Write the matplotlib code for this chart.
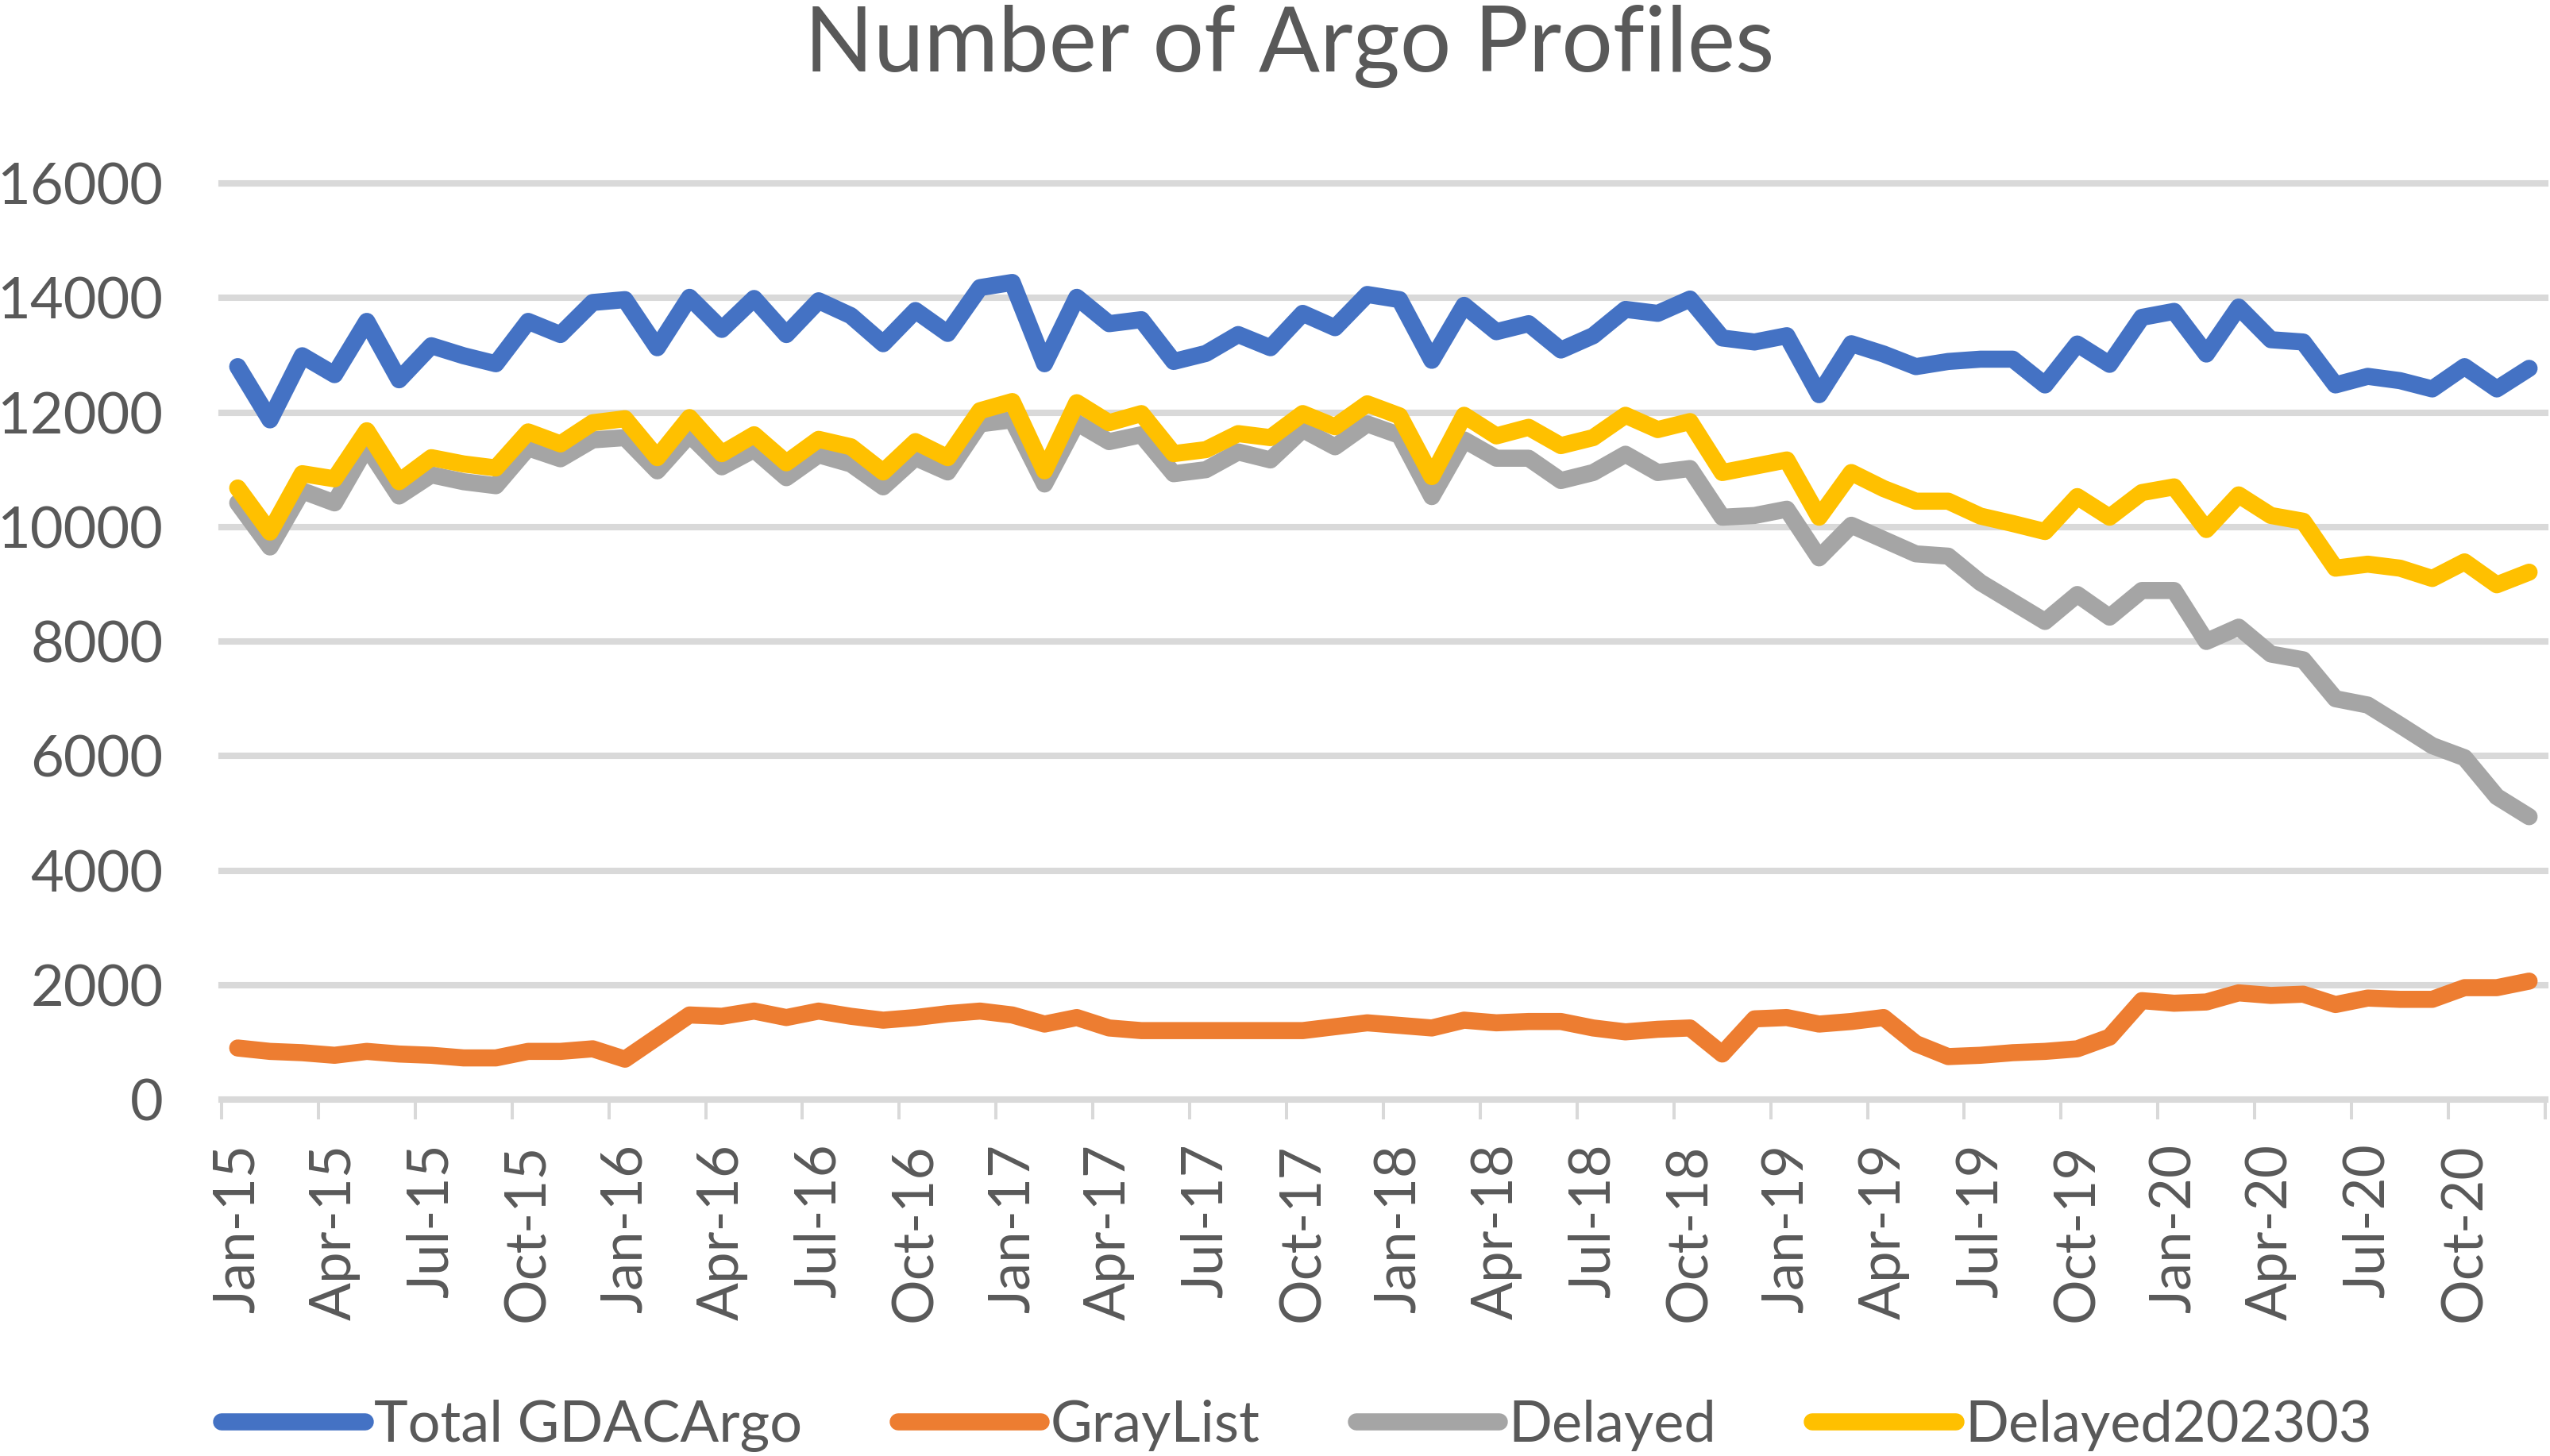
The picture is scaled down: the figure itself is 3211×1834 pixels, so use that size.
import numpy as np
import matplotlib
matplotlib.use("Agg")
import matplotlib.pyplot as plt
from matplotlib.lines import Line2D

plt.rcParams['font.family'] = ['Lato', 'DejaVu Sans']

months = ['Jan', 'Feb', 'Mar', 'Apr', 'May', 'Jun', 'Jul', 'Aug', 'Sep', 'Oct', 'Nov', 'Dec']
years = ['15', '16', '17', '18', '19', '20']
categories = [f"{m}-{y}" for y in years for m in months]

total_gdac = [12800, 11870, 12990, 12660, 13590, 12570, 13165, 12990, 12850, 13590, 13360, 13920,
              13970, 13130, 14010, 13450, 13990, 13360, 13950, 13690, 13200, 13780, 13380, 14180,
              14270, 12850, 14010, 13550, 13620, 12890, 13030, 13360, 13130, 13730, 13480, 14060,
              13970, 12910, 13870, 13410, 13550, 13090, 13340, 13800, 13730, 13980, 13300, 13230,
              13340, 12310, 13200, 13020, 12800, 12890, 12930, 12930, 12480, 13195, 12840, 13660,
              13765, 13020, 13840, 13270, 13230, 12480, 12630, 12555, 12410, 12800, 12410, 12770]

graylist = [900, 841, 818, 773, 841, 795, 773, 727, 727, 841, 841, 886,
            705, 1090, 1477, 1454, 1545, 1432, 1545, 1454, 1386, 1432, 1500, 1545,
            1477, 1318, 1432, 1250, 1204, 1204, 1204, 1204, 1204, 1204, 1272, 1340,
            1295, 1250, 1386, 1340, 1363, 1363, 1250, 1182, 1227, 1250, 795, 1409,
            1432, 1318, 1363, 1432, 977, 750, 773, 818, 841, 886, 1090, 1727,
            1682, 1704, 1863, 1818, 1840, 1659, 1772, 1750, 1750, 1954, 1954, 2068]

delayed = [10420, 9650, 10630, 10420, 11400, 10540, 10910, 10790, 10720, 11380, 11190, 11520,
           11560, 10980, 11610, 11050, 11350, 10860, 11260, 11100, 10700, 11210, 10960, 11800,
           11870, 10750, 11820, 11490, 11610, 10930, 11000, 11310, 11170, 11700, 11400, 11800,
           11600, 10530, 11520, 11200, 11200, 10810, 10950, 11270, 10950, 11020, 10170, 10200,
           10310, 9460, 10030, 9780, 9530, 9490, 9030, 8690, 8350, 8820, 8425, 8890,
           8890, 8000, 8250, 7780, 7680, 7000, 6890, 6540, 6180, 5970, 5290, 4940]

delayed202303 = [10680, 9910, 10930, 10840, 11680, 10790, 11210, 11100, 11030, 11660, 11450, 11820,
                 11890, 11210, 11910, 11280, 11610, 11120, 11530, 11400, 10960, 11490, 11210, 12030,
                 12190, 10980, 12170, 11820, 11980, 11280, 11350, 11630, 11560, 11980, 11750, 12150,
                 11940, 10880, 11950, 11590, 11740, 11420, 11560, 11950, 11700, 11840, 10950, 11060,
                 11170, 10170, 10950, 10670, 10450, 10450, 10190, 10060, 9920, 10530, 10170, 10600,
                 10700, 9955, 10560, 10200, 10100, 9280, 9350, 9280, 9100, 9390, 8990, 9210]

series_names = ['Total GDACArgo', 'GrayList', 'Delayed', 'Delayed202303']
series_colors = ['#4472C4', '#ED7D31', '#A5A5A5', '#FFC000']
y_ticks = [0, 2000, 4000, 6000, 8000, 10000, 12000, 14000, 16000]

W, H = 3212, 1834
fig = plt.figure(figsize=(W / 100, H / 100), dpi=100)
left, right, top, bottom = 279, 3205, 231, 1385
ax = fig.add_axes([left / W, 1 - bottom / H, (right - left) / W, (bottom - top) / H])

x = np.arange(len(categories))
ax.set_xlim(-0.5, len(categories) - 0.5)
ax.set_ylim(0, 16000)

grid_col = '#D9D9D9'
text_col = '#595959'
for yv in y_ticks:
    ax.axhline(yv, color=grid_col, lw=5.8, zorder=1, clip_on=False)

for s in ax.spines.values():
    s.set_visible(False)

lw = 15.5
for vals, name, col in zip([total_gdac, graylist, delayed, delayed202303], series_names, series_colors):
    ax.plot(x, vals, color=col, lw=lw, solid_joinstyle='round', solid_capstyle='round',
            zorder=3, clip_on=False, label=name)

ax.set_yticks(y_ticks)
ax.set_yticklabels([str(v) for v in y_ticks])
ax.tick_params(axis='y', length=0, pad=53, labelsize=52, labelcolor=text_col)

ax.set_xticks(np.arange(-0.5, len(categories), 3))
ax.set_xticklabels([])
ax.tick_params(axis='x', which='major', length=18, width=2.9, color=grid_col, direction='out')
ax.set_xticks(x[::3], minor=True)
ax.set_xticklabels(categories[::3], minor=True, rotation=90, ha='center', va='top')
ax.tick_params(axis='x', which='minor', length=0, pad=40, labelsize=51, labelcolor=text_col)

fig.text(0.5056, 1 - 90 / H, 'Number of Argo Profiles', ha='center', va='baseline',
         fontsize=82, color=text_col)

handles = [Line2D([0], [0], color=c, lw=lw, solid_capstyle='round') for c in series_colors]
leg = fig.legend(handles, series_names, loc='center', bbox_to_anchor=(0.5084, 1 - 1796 / H),
                 ncol=4, frameon=False, fontsize=52, handlelength=2.5, handletextpad=0.16,
                 columnspacing=1.67, borderpad=0)
for t in leg.get_texts():
    t.set_color(text_col)

fig.savefig('out.png', dpi=100)
